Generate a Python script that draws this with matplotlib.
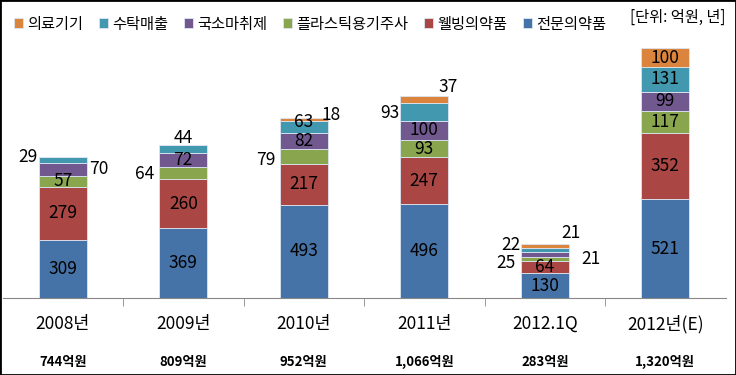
import numpy as np
import matplotlib.pyplot as plt
from matplotlib.patches import Rectangle

plt.rcParams['font.family'] = ['Noto Sans CJK KR', 'DejaVu Sans']

categories = ['2008년', '2009년', '2010년', '2011년', '2012.1Q', '2012년(E)']
totals = ['744억원', '809억원', '952억원', '1,066억원', '283억원', '1,320억원']
series_names = ['전문의약품', '웰빙의약품', '플라스틱용기주사', '국소마취제', '수탁매출', '의료기기']
prescription = [309, 369, 493, 496, 130, 521]
wellbeing = [279, 260, 217, 247, 64, 352]
plastic = [57, 64, 79, 93, 25, 117]
anesthetic = [70, 72, 82, 100, 22, 99]
consignment = [29, 44, 63, 93, 21, 131]
devices = [0, 0, 18, 37, 21, 100]

colors = ['#4572A7', '#AA4643', '#89A54E', '#71588F', '#4198AF', '#DB843D']

# label offsets in points, keyed by (category, series), for labels moved off-centre
offsets = {
    (0, 3): (26, 0), (0, 4): (-25, 2),
    (1, 2): (-28, -1), (1, 4): (0, 8),
    (2, 2): (-27, -3), (2, 4): (0, 4), (2, 5): (20, 3),
    (3, 4): (-25, -1), (3, 5): (17, 9),
    (4, 2): (-28, -3), (4, 3): (-24, 7), (4, 4): (33, -6), (4, 5): (19, 10),
}

data = [prescription, wellbeing, plastic, anesthetic, consignment, devices]

fig = plt.figure(figsize=(7.36, 3.75), dpi=100)
ax = fig.add_axes([2.5 / 736, 77 / 375, 723 / 736, 265 / 375])
x = np.arange(len(categories))
bottom = np.zeros(len(categories))
handles = []
for s, (vals, col, name) in enumerate(zip(data, colors, series_names)):
    vals = np.array(vals)
    b = ax.bar(x, vals, 0.4, bottom=bottom, color=col, edgecolor='#dce6f2',
               linewidth=0.6, label=name)
    handles.append(b)
    for i in range(len(x)):
        if vals[i] == 0:
            continue
        dx, dy = offsets.get((i, s), (0, 0))
        ax.annotate(str(vals[i]), (x[i], bottom[i] + vals[i] / 2),
                    xytext=(dx, dy), textcoords='offset points',
                    ha='center', va='center', fontsize=12.5, color='black')
    bottom += vals

ax.set_xlim(-0.5, 5.5)
ax.set_ylim(0, 1400)
ax.set_yticks([])
for sp in ['left', 'right', 'top']:
    ax.spines[sp].set_visible(False)
ax.spines['bottom'].set_color('#888888')
ax.set_xticks(x)
ax.set_xticklabels(categories, fontsize=12.5)
ax.tick_params(axis='x', length=0, pad=12)
ax.set_xticks(np.arange(0.5, 5.5, 1), minor=True)
ax.tick_params(axis='x', which='minor', length=6, color='#888888', direction='out')

for i, t in enumerate(totals):
    fig.text((2.5 + 120.5 * (i + 0.5)) / 736, 1 - 362 / 375, t, ha='center', va='center',
             fontsize=9.5, fontweight='bold')

leg = fig.legend(handles[::-1], series_names[::-1], loc='upper left',
                 bbox_to_anchor=(0.0, 0.995), ncol=6, frameon=False, fontsize=11,
                 handlelength=0.6, handleheight=0.6, handletextpad=0.3,
                 columnspacing=1.0, borderaxespad=0.5)
fig.text(725 / 736, 1 - 17 / 375, '[단위: 억원, 년]', ha='right', va='center', fontsize=11)

fig.patches.append(Rectangle((0, 0), 1, 1, transform=fig.transFigure, fill=False,
                             edgecolor='black', linewidth=2))
fig.savefig('out.png', dpi=100)
